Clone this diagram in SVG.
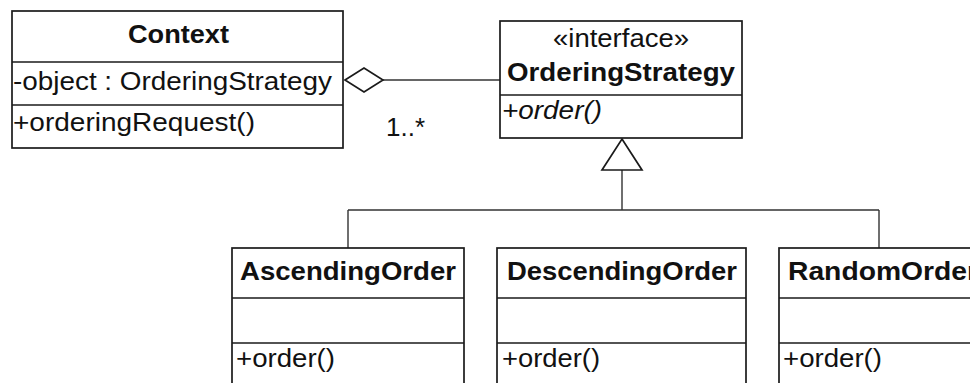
<svg xmlns="http://www.w3.org/2000/svg" width="970" height="383" viewBox="0 0 970 383">
  <style>
    .box { fill: #ffffff; stroke: #1a1a1a; stroke-width: 1.7; }
    .sep { stroke: #1a1a1a; stroke-width: 1.7; }
    .edge { fill: none; stroke: #333333; stroke-width: 1.4; }
    .head { fill: #ffffff; stroke: #1a1a1a; stroke-width: 1.7; }
    text { font-family: "Liberation Sans", Arial, sans-serif; font-size: 25.5px; fill: #111111; }
    .title { font-weight: bold; }
    .abstract { font-style: italic; }
  </style>
  <rect width="970" height="383" fill="#ffffff"/>

  <!-- connectors -->
  <g id="connectors">
    <!-- aggregation Context <>— OrderingStrategy -->
    <line class="edge" x1="383" y1="80" x2="500" y2="80"/>
    <polygon class="head" points="345,80 364,68 383,80 364,92"/>
    <text x="386" y="136" textLength="39" lengthAdjust="spacingAndGlyphs">1..*</text>
    <!-- realization tree -->
    <path class="edge" d="M622,170 V210 M348,210 H879 M348,210 V248 M879,210 V248"/>
    <polygon class="head" points="622,139 642,170 602,170"/>
  </g>

  <g id="context">
    <rect class="box" x="12" y="11" width="331" height="137"/>
    <line class="sep" x1="12" y1="62" x2="343" y2="62"/>
    <line class="sep" x1="12" y1="105" x2="343" y2="105"/>
    <text class="title" x="128" y="43" textLength="101" lengthAdjust="spacingAndGlyphs">Context</text>
    <text x="13" y="90" textLength="319" lengthAdjust="spacingAndGlyphs">-object : OrderingStrategy</text>
    <text x="13" y="131" textLength="242" lengthAdjust="spacingAndGlyphs">+orderingRequest()</text>
  </g>

  <g id="ordering-strategy">
    <rect class="box" x="500" y="21" width="242" height="117"/>
    <line class="sep" x1="500" y1="95" x2="742" y2="95"/>
    <text x="553" y="47" textLength="136" lengthAdjust="spacingAndGlyphs">«interface»</text>
    <text class="title" x="507" y="81" textLength="228" lengthAdjust="spacingAndGlyphs">OrderingStrategy</text>
    <text class="abstract" x="502" y="119" textLength="100" lengthAdjust="spacingAndGlyphs">+order()</text>
  </g>

  <g id="ascending-order">
    <rect class="box" x="232" y="248" width="232" height="160"/>
    <line class="sep" x1="232" y1="298" x2="464" y2="298"/>
    <line class="sep" x1="232" y1="343" x2="464" y2="343"/>
    <text class="title" x="240" y="280" textLength="216" lengthAdjust="spacingAndGlyphs">AscendingOrder</text>
    <text x="236" y="367" textLength="99" lengthAdjust="spacingAndGlyphs">+order()</text>
  </g>

  <g id="descending-order">
    <rect class="box" x="497" y="248" width="249" height="160"/>
    <line class="sep" x1="497" y1="298" x2="746" y2="298"/>
    <line class="sep" x1="497" y1="343" x2="746" y2="343"/>
    <text class="title" x="507" y="280" textLength="230" lengthAdjust="spacingAndGlyphs">DescendingOrder</text>
    <text x="502" y="367" textLength="98" lengthAdjust="spacingAndGlyphs">+order()</text>
  </g>

  <g id="random-order">
    <rect class="box" x="779" y="248" width="230" height="160"/>
    <line class="sep" x1="779" y1="298" x2="1009" y2="298"/>
    <line class="sep" x1="779" y1="343" x2="1009" y2="343"/>
    <text class="title" x="788" y="280" textLength="190" lengthAdjust="spacingAndGlyphs">RandomOrder</text>
    <text x="783" y="367" textLength="99" lengthAdjust="spacingAndGlyphs">+order()</text>
  </g>
</svg>
